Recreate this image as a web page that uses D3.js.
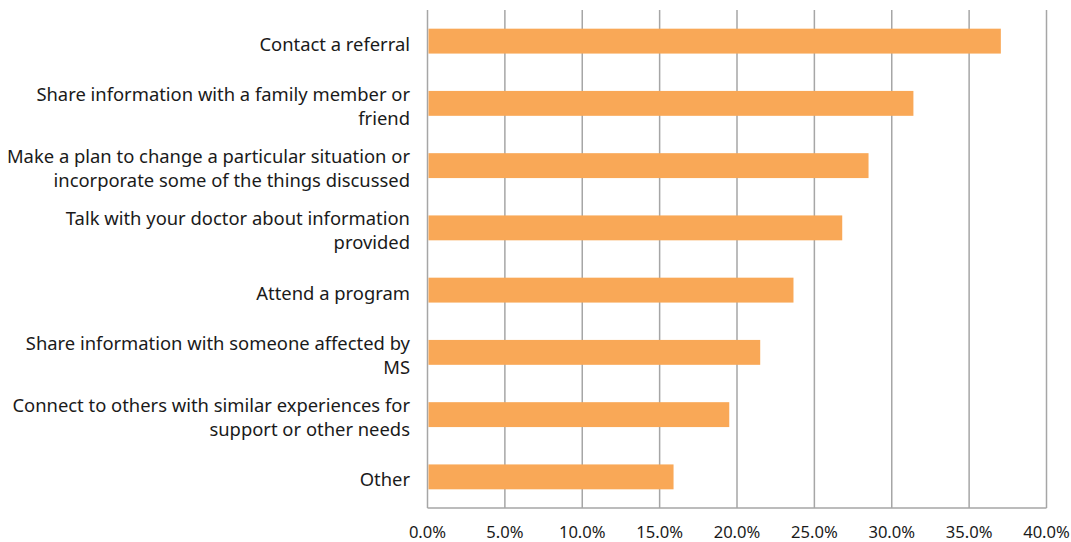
<!DOCTYPE html>
<html>
<head>
<meta charset="utf-8">
<script src="https://cdn.jsdelivr.net/npm/d3@7"></script>
<style>
  body { margin: 0; background: #fff; }
  text { font-family: "Noto Sans", sans-serif; fill: #1a1a1a; }
</style>
</head>
<body>
<svg width="1071" height="542"></svg>
<script>
// data
var categories = [
  "Contact a referral",
  "Share information with a family member or\nfriend",
  "Make a plan to change a particular situation or\nincorporate some of the things discussed",
  "Talk with your doctor about information\nprovided",
  "Attend a program",
  "Share information with someone affected by\nMS",
  "Connect to others with similar experiences for\nsupport or other needs",
  "Other"
];
var values = [37.05, 31.4, 28.5, 26.8, 23.65, 21.5, 19.5, 15.9];
var tickValues = [0, 5, 10, 15, 20, 25, 30, 35, 40];

var svg = d3.select("svg");
var plotLeft = 427.5, plotRight = 1046.5, plotTop = 10, plotBottom = 508;

var x = d3.scaleLinear().domain([0, 40]).range([plotLeft, plotRight]);
var y = d3.scaleBand().domain(categories).range([plotTop, plotBottom]).paddingInner(0.6).paddingOuter(0.3);

// gridlines
svg.append("g")
  .selectAll("line")
  .data(tickValues)
  .enter()
  .append("line")
  .attr("x1", d => x(d)).attr("x2", d => x(d))
  .attr("y1", plotTop).attr("y2", plotBottom)
  .attr("stroke", "#a6a6a6")
  .attr("stroke-width", 1.5);

// bottom line
svg.append("line")
  .attr("x1", plotLeft).attr("x2", plotRight)
  .attr("y1", plotBottom).attr("y2", plotBottom)
  .attr("stroke", "#a6a6a6")
  .attr("stroke-width", 1.5);

// bars
svg.append("g")
  .selectAll("rect")
  .data(values)
  .enter()
  .append("rect")
  .attr("x", x(0) + 1)
  .attr("y", (d, i) => y(categories[i]))
  .attr("width", d => x(d) - x(0) - 1)
  .attr("height", y.bandwidth())
  .attr("fill", "#f9a857");

// category labels
var lab = svg.append("g")
  .selectAll("text")
  .data(categories)
  .enter()
  .append("text")
  .attr("text-anchor", "end")
  .attr("font-size", "18.4px")
  .attr("y", d => y(d) + y.bandwidth() / 2);

lab.each(function (d) {
  var lines = d.split("\n");
  var t = d3.select(this);
  var lh = 24;
  var y0 = -(lines.length - 1) * lh / 2 + 2;
  lines.forEach(function (l, j) {
    t.append("tspan")
      .attr("x", 410)
      .attr("dy", j === 0 ? y0 : lh)
      .attr("dominant-baseline", "central")
      .text(l);
  });
});

// x tick labels
svg.append("g")
  .selectAll("text")
  .data(tickValues)
  .enter()
  .append("text")
  .attr("x", d => x(d))
  .attr("y", 531)
  .attr("text-anchor", "middle")
  .attr("dominant-baseline", "central")
  .attr("font-size", "16.6px")
  .text(d => d3.format(".1f")(d) + "%");
</script>
</body>
</html>
